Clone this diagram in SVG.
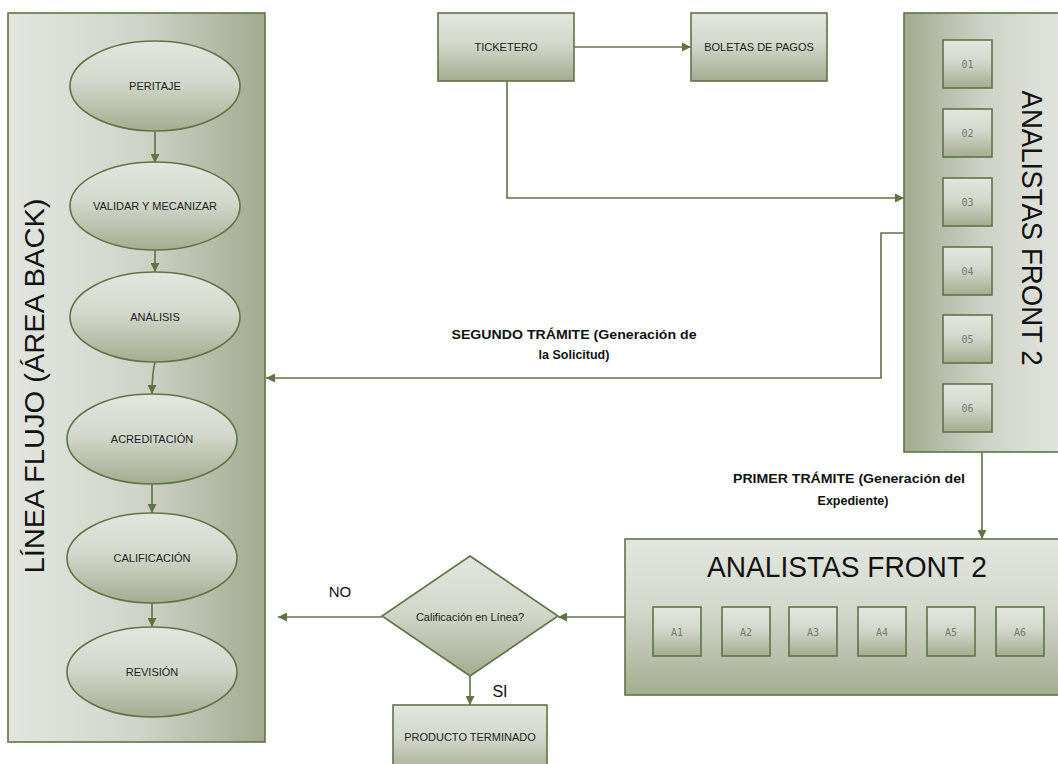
<svg xmlns="http://www.w3.org/2000/svg" width="1058" height="764" viewBox="0 0 1058 764">
<style>
.node{stroke:#5f7345;stroke-width:1.6}
.lbl{font-family:"Liberation Sans",Arial,sans-serif;font-size:11px;fill:#222;text-anchor:middle}
.sm{font-family:"DejaVu Sans Mono",monospace;font-size:10px;fill:#777;text-anchor:middle}
.big{font-family:"Liberation Sans",Arial,sans-serif;fill:#111;text-anchor:middle}
.bold{font-family:"Liberation Sans",Arial,sans-serif;font-weight:bold;font-size:12.5px;fill:#111;text-anchor:middle}
.con{fill:none;stroke:#5f7345;stroke-width:1.6}
</style>
<defs>
<linearGradient id="gv" x1="0" y1="0" x2="0" y2="1">
<stop offset="0" stop-color="#e2e6df"/><stop offset="0.45" stop-color="#d3d8cc"/><stop offset="1" stop-color="#a4ac90"/>
</linearGradient>
<linearGradient id="gLR" x1="0" y1="0" x2="1" y2="0">
<stop offset="0" stop-color="#e3e6e0"/><stop offset="0.5" stop-color="#d0d5ca"/><stop offset="1" stop-color="#a2aa8f"/>
</linearGradient>
<linearGradient id="gRL" x1="0" y1="0" x2="1" y2="0">
<stop offset="0" stop-color="#a2aa8f"/><stop offset="0.5" stop-color="#cdd2c7"/><stop offset="1" stop-color="#e3e6e0"/>
</linearGradient>
<marker id="ah" viewBox="0 0 10 10" refX="10" refY="5" markerWidth="9" markerHeight="9" markerUnits="userSpaceOnUse" orient="auto">
<path d="M0,0 L10,5 L0,10 z" fill="#5f7345"/>
</marker>
</defs>

<g id="linea-flujo">
<rect class="node" x="8" y="13" width="257" height="729" fill="url(#gLR)"/>
<text class="big" font-size="28" transform="translate(44,386) rotate(-90)" textLength="375" lengthAdjust="spacingAndGlyphs">LÍNEA FLUJO (ÁREA BACK)</text>
</g>

<g id="peritaje"><ellipse class="node" cx="155" cy="86" rx="85" ry="45" fill="url(#gv)"/><text class="lbl" x="155" y="90">PERITAJE</text></g>
<g id="validar"><ellipse class="node" cx="155" cy="206" rx="85" ry="44" fill="url(#gv)"/><text class="lbl" x="155" y="210">VALIDAR Y MECANIZAR</text></g>
<g id="analisis"><ellipse class="node" cx="155" cy="317" rx="85" ry="45" fill="url(#gv)"/><text class="lbl" x="155" y="321">ANÁLISIS</text></g>
<g id="acreditacion"><ellipse class="node" cx="152" cy="439" rx="85" ry="45" fill="url(#gv)"/><text class="lbl" x="152" y="443">ACREDITACIÓN</text></g>
<g id="calificacion"><ellipse class="node" cx="152" cy="558" rx="85" ry="45" fill="url(#gv)"/><text class="lbl" x="152" y="562">CALIFICACIÓN</text></g>
<g id="revision"><ellipse class="node" cx="152" cy="672" rx="85" ry="45" fill="url(#gv)"/><text class="lbl" x="152" y="676">REVISIÓN</text></g>

<g id="ticketero"><rect class="node" x="438" y="13" width="136" height="68" fill="url(#gv)"/><text class="lbl" x="506" y="51">TICKETERO</text></g>
<g id="boletas"><rect class="node" x="691" y="13" width="136" height="68" fill="url(#gv)"/><text class="lbl" x="759" y="51">BOLETAS DE PAGOS</text></g>

<g id="analistas-front-v">
<rect class="node" x="904" y="13" width="160" height="439" fill="url(#gRL)"/>
<text class="big" font-size="30" transform="translate(1022,228) rotate(90)" textLength="275" lengthAdjust="spacingAndGlyphs">ANALISTAS FRONT 2</text>
<g id="o1"><rect class="node" x="943" y="40" width="49" height="48" fill="url(#gv)"/><text class="sm" x="967.5" y="68">01</text></g>
<g id="o2"><rect class="node" x="943" y="109" width="49" height="48" fill="url(#gv)"/><text class="sm" x="967.5" y="137">02</text></g>
<g id="o3"><rect class="node" x="943" y="178" width="49" height="48" fill="url(#gv)"/><text class="sm" x="967.5" y="206">03</text></g>
<g id="o4"><rect class="node" x="943" y="247" width="49" height="48" fill="url(#gv)"/><text class="sm" x="967.5" y="275">04</text></g>
<g id="o5"><rect class="node" x="943" y="315" width="49" height="48" fill="url(#gv)"/><text class="sm" x="967.5" y="343">05</text></g>
<g id="o6"><rect class="node" x="943" y="384" width="49" height="48" fill="url(#gv)"/><text class="sm" x="967.5" y="412">06</text></g>
</g>

<g id="analistas-front-h">
<rect class="node" x="625" y="539" width="440" height="156" fill="url(#gv)"/>
<text class="big" font-size="30" x="847" y="577" textLength="280" lengthAdjust="spacingAndGlyphs">ANALISTAS FRONT 2</text>
<g id="a1"><rect class="node" x="653" y="607" width="48" height="49" fill="url(#gv)"/><text class="sm" x="677" y="636">A1</text></g>
<g id="a2"><rect class="node" x="722" y="607" width="48" height="49" fill="url(#gv)"/><text class="sm" x="746" y="636">A2</text></g>
<g id="a3"><rect class="node" x="789" y="607" width="48" height="49" fill="url(#gv)"/><text class="sm" x="813" y="636">A3</text></g>
<g id="a4"><rect class="node" x="858" y="607" width="48" height="49" fill="url(#gv)"/><text class="sm" x="882" y="636">A4</text></g>
<g id="a5"><rect class="node" x="927" y="607" width="48" height="49" fill="url(#gv)"/><text class="sm" x="951" y="636">A5</text></g>
<g id="a6"><rect class="node" x="996" y="607" width="48" height="49" fill="url(#gv)"/><text class="sm" x="1020" y="636">A6</text></g>
</g>

<g id="decision"><path class="node" d="M470,556 L558,616 L470,676 L382,616 Z" fill="url(#gv)"/><text class="lbl" x="470" y="621">Calificación en Línea?</text></g>

<g id="producto"><rect class="node" x="393" y="705" width="154" height="70" fill="url(#gv)"/><text class="lbl" x="470" y="741">PRODUCTO TERMINADO</text></g>

<g id="connectors">
<path class="con" d="M155,132 V163" marker-end="url(#ah)"/>
<path class="con" d="M155,250 V272" marker-end="url(#ah)"/>
<path class="con" d="M155,362 C152,374 152,382 152,394" marker-end="url(#ah)"/>
<path class="con" d="M152,484 V513" marker-end="url(#ah)"/>
<path class="con" d="M152,603 V627" marker-end="url(#ah)"/>
<path class="con" d="M574,47 H691" marker-end="url(#ah)"/>
<path class="con" d="M507,81 V198 H904" marker-end="url(#ah)"/>
<path class="con" d="M904,233 H881 V378 H266" marker-end="url(#ah)"/>
<path class="con" d="M982,452 V539" marker-end="url(#ah)"/>
<path class="con" d="M625,617 H558" marker-end="url(#ah)"/>
<path class="con" d="M382,617 H278" marker-end="url(#ah)"/>
<path class="con" d="M470,676 V705" marker-end="url(#ah)"/>
<text class="bold" x="574" y="339" textLength="245" lengthAdjust="spacingAndGlyphs">SEGUNDO TRÁMITE (Generación de</text>
<text class="bold" x="574" y="359">la Solicitud)</text>
<text class="bold" x="849" y="483" textLength="232" lengthAdjust="spacingAndGlyphs">PRIMER TRÁMITE (Generación del</text>
<text class="bold" x="853" y="505">Expediente)</text>
<text class="big" font-size="15" x="340" y="597">NO</text>
<text class="big" font-size="16" x="500" y="697">SI</text>
</g>
</svg>
